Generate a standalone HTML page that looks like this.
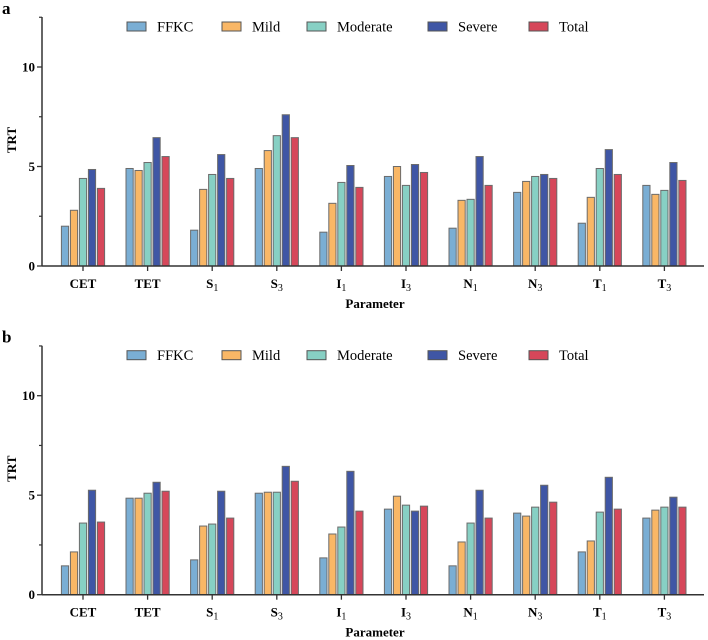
<!DOCTYPE html>
<html><head><meta charset="utf-8"><style>
body{margin:0;background:#fff;}
svg{display:block;}
svg text{font-family:"Liberation Serif","Times New Roman",serif;}
</style></head><body>
<svg id="c" width="708" height="640" xmlns="http://www.w3.org/2000/svg" font-family="Liberation Serif, serif"></svg>
<script>
const categories=["CET","TET","S1","S3","I1","I3","N1","N3","T1","T3"];
const seriesNames=["FFKC","Mild","Moderate","Severe","Total"];
const colors=["#7aaed4","#f9b766","#87d0c4","#3f56a5","#d6475a"];
const yTicks=[0,5,10];
const aFFKC=[2.0,4.9,1.8,4.9,1.7,4.5,1.9,3.7,2.15,4.05];
const aMild=[2.8,4.8,3.85,5.8,3.15,5.0,3.3,4.25,3.45,3.6];
const aModerate=[4.4,5.2,4.6,6.55,4.2,4.05,3.35,4.5,4.9,3.8];
const aSevere=[4.85,6.45,5.6,7.6,5.05,5.1,5.5,4.6,5.85,5.2];
const aTotal=[3.9,5.5,4.4,6.45,3.95,4.7,4.05,4.4,4.6,4.3];
const bFFKC=[1.45,4.85,1.75,5.1,1.85,4.3,1.45,4.1,2.15,3.85];
const bMild=[2.15,4.85,3.45,5.15,3.05,4.95,2.65,3.95,2.7,4.25];
const bModerate=[3.6,5.1,3.55,5.15,3.4,4.5,3.6,4.4,4.15,4.4];
const bSevere=[5.25,5.65,5.2,6.45,6.2,4.2,5.25,5.5,5.9,4.9];
const bTotal=[3.65,5.2,3.85,5.7,4.2,4.45,3.85,4.65,4.3,4.4];

const svg=document.getElementById('c');
const NS="http://www.w3.org/2000/svg";
function mk(t,a,p){const e=document.createElementNS(NS,t);for(const k in a)e.setAttribute(k,a[k]);if(t==='text')e.setAttribute('font-family','Liberation Serif, serif');(p||svg).appendChild(e);return e;}

function panel(letter,y0,series){
  const g=mk('g',{});
  
  
  const ppu=19.9, x0=42, xEnd=704;
  const yS=v=>y0-v*ppu;
  const xS=i=>83+i*64.6;
  const L=mk('text',{x:2,y:y0-252,'font-size':17,'font-weight':'bold'},g);L.textContent=letter;
  
  
  const ya=mk('line',{x1:x0,y1:y0-249,x2:x0,y2:y0,stroke:'#333','stroke-width':1.5},g);
  
  
  [2.5,7.5,12.5].forEach(v=>mk('line',{x1:x0-3,x2:x0,y1:yS(v),y2:yS(v),stroke:'#333','stroke-width':1.2},g));
  yTicks.forEach(v=>{
    mk('line',{x1:x0-5,x2:x0,y1:yS(v),y2:yS(v),stroke:'#333','stroke-width':1.3},g);
    const t=mk('text',{x:x0-7,y:yS(v)+4.5,'font-size':13,'font-weight':'bold','text-anchor':'end'},g);t.textContent=v;
    
    
  });
  const yt=mk('text',{x:0,y:0,'font-size':13,'font-weight':'bold','text-anchor':'middle',transform:`translate(16,${y0-126}) rotate(-90)`},g);yt.textContent='TRT';
  
  
  const bw=7.2, gap=1.8, gw=5*bw+4*gap;
  series.forEach((arr,s)=>{
    arr.forEach((v,i)=>{
      const x=xS(i)-gw/2+s*(bw+gap);
      const r=mk('rect',{x:x,y:yS(v),width:bw,height:v*ppu,fill:colors[s],stroke:'#6b6b6b','stroke-width':1},g);
      
      
    });
  });
  const xa=mk('line',{x1:x0,y1:y0,x2:xEnd,y2:y0,stroke:'#333','stroke-width':1.5},g);
  
  
  categories.forEach((c,i)=>{
    mk('line',{x1:xS(i),x2:xS(i),y1:y0,y2:y0+5,stroke:'#333','stroke-width':1.3},g);
    const t=mk('text',{x:xS(i),y:y0+22,'font-size':13,'font-weight':'bold','text-anchor':'middle'},g);
    if(c.length===2&&/\d/.test(c[1])){
      t.textContent=c[0];
      const sub=mk('tspan',{'font-size':10,'font-weight':'normal',dy:3},t);sub.textContent=c[1];
    } else t.textContent=c;
    
    
  });
  const xt=mk('text',{x:375,y:y0+42,'font-size':13,'font-weight':'bold','text-anchor':'middle'},g);xt.textContent='Parameter';
  
  
  const lx=[127,222,307,428,529];
  seriesNames.forEach((n,s)=>{
    const lg=mk('g',{},g);
    
    
    mk('rect',{x:lx[s],y:y0-244,width:19,height:9,fill:colors[s],stroke:'#555','stroke-width':1},lg);
    const t=mk('text',{x:lx[s]+30,y:y0-234.5,'font-size':14.5},lg);t.textContent=n;
  });
}
panel('a',266,[aFFKC,aMild,aModerate,aSevere,aTotal]);
panel('b',594.7,[bFFKC,bMild,bModerate,bSevere,bTotal]);
</script>
</body></html>
